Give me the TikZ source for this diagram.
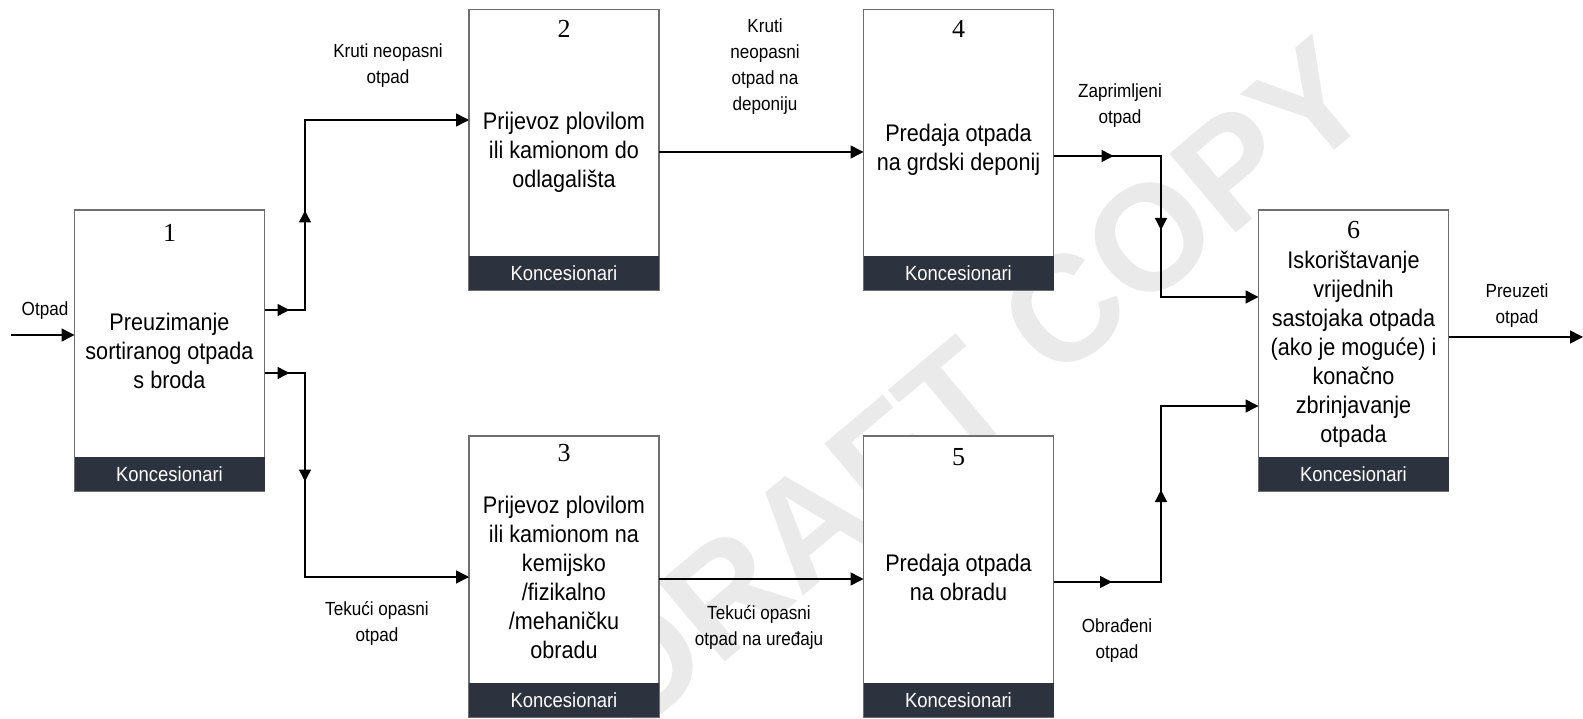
\documentclass[tikz,border=0pt]{standalone}
\usepackage{fontspec}
\setmainfont{Liberation Sans}[FakeStretch=0.9]
\newfontfamily\numfont{Liberation Serif}
\newfontfamily\wmfont{Liberation Sans}
\usetikzlibrary{arrows.meta,decorations.markings}
\definecolor{boxc}{RGB}{110,110,110}
\definecolor{bandc}{RGB}{45,51,62}
\definecolor{wmc}{RGB}{234,234,234}
\tikzset{
  proc/.style={draw=boxc, line width=1.1pt, fill=white, minimum width=190pt, minimum height=281pt, inner sep=0pt, outer sep=0pt},
  band/.style={fill=bandc, text=white, minimum width=190pt, minimum height=34pt, inner sep=0pt, anchor=south, font=\fontsize{20.5}{24}\selectfont},
  num/.style={font=\numfont\fontsize{26}{30}\selectfont, inner sep=0pt},
  ptext/.style={align=center, font=\fontsize{24}{29}\selectfont, inner sep=0pt},
  lbl/.style={align=center, font=\fontsize{19}{26}\selectfont, inner sep=0pt},
  flow/.style={line width=1.5pt, -{Triangle[length=13pt,width=13pt]}},
  mids/.style 2 args={postaction={decorate}, decoration={markings,
     mark=at position #1 with {\arrow{Triangle[length=12pt,width=12pt]}},
     mark=at position #2 with {\arrow{Triangle[length=12pt,width=12pt]}}}},
}
\begin{document}
\begin{tikzpicture}[x=1pt,y=-1pt]
\useasboundingbox (0,0) rectangle (1583,719);
% watermark
\node[text=wmc, rotate=40, font=\wmfont\bfseries\fontsize{150}{150}\selectfont] (wm) at (975,385) {DRAFT COPY};

% boxes
\node[proc] (b1) at (169.5,350.5) {};
\node[proc] (b2) at (564,150) {};
\node[proc] (b3) at (564,576.5) {};
\node[proc] (b4) at (958.5,150) {};
\node[proc] (b5) at (958.5,576.5) {};
\node[proc] (b6) at (1353.5,350.5) {};
\foreach \b in {b1,b2,b3,b4,b5,b6}{
  \node[band] (\b k) at (\b.south) {Koncesionari};
}
% numbers
\node[num] (n1) at (169.5,233) {1};
\node[num] (n2) at (564,29) {2};
\node[num] (n3) at (564,453) {3};
\node[num] (n4) at (958.5,29) {4};
\node[num] (n5) at (958.5,457) {5};
\node[num] (n6) at (1353.5,230) {6};
% texts
\node[ptext] (t1) at (169.5,351) {Preuzimanje\\sortiranog otpada\\s broda};
\node[ptext] (t2) at (564,152) {Prijevoz plovilom\\ili kamionom do\\odlagališta};
\node[ptext] (t3) at (564,577) {Prijevoz plovilom\\ili kamionom na\\kemijsko\\/fizikalno\\/mehaničku\\obradu};
\node[ptext] (t4) at (958.5,150) {Predaja otpada\\na grdski deponij};
\node[ptext] (t5) at (958.5,577) {Predaja otpada\\na obradu};
\node[ptext] (t6) at (1353.5,349) {Iskorištavanje\\vrijednih\\sastojaka otpada\\(ako je moguće) i\\konačno\\zbrinjavanje\\otpada};

% labels
\node[lbl] (l0) at (45,311) {Otpad};
\node[lbl] (l1) at (388,66) {Kruti neopasni\\otpad};
\node[lbl] (l2) at (377,623) {Tekući opasni\\otpad};
\node[lbl] (l3) at (765,67) {Kruti\\neopasni\\otpad na\\deponiju};
\node[lbl] (l4) at (759,627) {Tekući opasni\\otpad na uređaju};
\node[lbl] (l5) at (1120,106) {Zaprimljeni\\otpad};
\node[lbl] (l6) at (1117,641) {Obrađeni\\otpad};
\node[lbl] (l7) at (1517,306) {Preuzeti\\otpad};

% connectors
\coordinate (in) at (11,335);
\coordinate (out) at (1583,337);
\draw[flow] (in) -- ([yshift=15.5pt]b1.west);
\draw[flow, mids={25pt}{140pt}] ([yshift=40.5pt]b1.east) -- (305,310) -- (305,120) -- ([yshift=30pt]b2.west);
\draw[flow, mids={25pt}{149pt}] ([yshift=-22.5pt]b1.east) -- (305,373) -- (305,577) -- ([yshift=-0.5pt]b3.west);
\draw[flow] ([yshift=-2pt]b2.east) -- ([yshift=-2pt]b4.west);
\draw[flow] ([yshift=-2.5pt]b3.east) -- ([yshift=-2.5pt]b5.west);
\draw[flow, mids={60pt}{181.5pt}] ([yshift=-6pt]b4.east) -- (1161,156) -- (1161,297) -- ([yshift=53.5pt]b6.west);
\draw[flow, mids={58.5pt}{199.5pt}] ([yshift=-5.5pt]b5.east) -- (1161,582) -- (1161,406) -- ([yshift=-55.5pt]b6.west);
\draw[flow] ([yshift=13.5pt]b6.east) -- (out);
\end{tikzpicture}
\end{document}
